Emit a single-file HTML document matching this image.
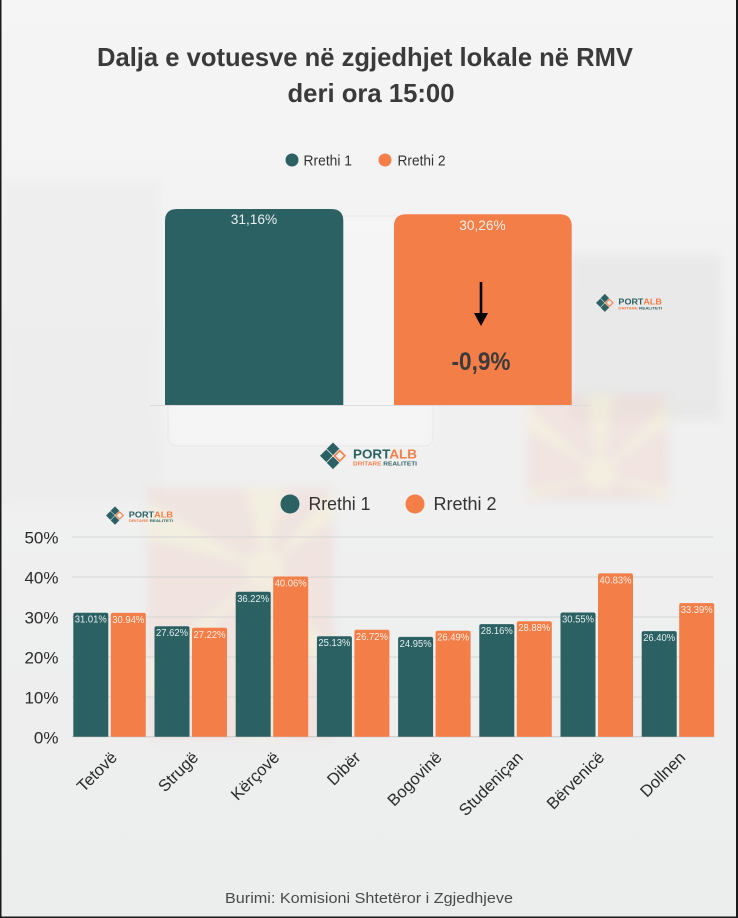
<!DOCTYPE html>
<html>
<head>
<meta charset="utf-8">
<style>
  html,body{margin:0;padding:0;background:#f0f0f0;}
  svg{display:block;}
  text{font-family:"Liberation Sans",sans-serif;}
</style>
</head>
<body>
<svg width="738" height="918" viewBox="0 0 738 918" xmlns="http://www.w3.org/2000/svg">
  <defs>
    <linearGradient id="bg" x1="0" y1="0" x2="0" y2="1">
      <stop offset="0" stop-color="#f5f5f5"/>
      <stop offset="0.5" stop-color="#f0f0f0"/>
      <stop offset="1" stop-color="#eceded"/>
    </linearGradient>
    <filter id="soft" x="-10%" y="-10%" width="120%" height="120%">
      <feGaussianBlur stdDeviation="5"/>
    </filter>
    <g id="logo">
      <path d="M13,0.5 L19.3,6.8 L13,13.1 L6.7,6.8 Z" fill="#2c6163"/>
      <path d="M6.3,7.5 L12.6,13.8 L6.3,20.1 L0,13.8 Z" fill="#2c6163"/>
      <path d="M13,14.5 L19.3,20.8 L13,27.1 L6.7,20.8 Z" fill="#2c6163"/>
      <path d="M19.7,8.6 L24.9,13.8 L19.7,19 L14.5,13.8 Z" fill="none" stroke="#f47e48" stroke-width="1.6"/>
      <text x="33" y="16.5" font-size="12.5" font-weight="bold" textLength="64" lengthAdjust="spacingAndGlyphs"><tspan fill="#2c6163">PORT</tspan><tspan fill="#f47e48">ALB</tspan></text>
      <text x="33" y="23.5" font-size="5.6" font-weight="bold" textLength="64" lengthAdjust="spacingAndGlyphs"><tspan fill="#f47e48">DRITARE </tspan><tspan fill="#2c6163">REALITETI</tspan></text>
    </g>
  </defs>

  <!-- background -->
  <rect x="0" y="0" width="738" height="918" fill="url(#bg)"/>
  <g filter="url(#soft)">
    <rect x="0" y="180" width="160" height="320" fill="#e9e9e9" opacity="0.45"/>
    <rect x="570" y="255" width="150" height="165" fill="#e2e2e2" opacity="0.55"/>
    <rect x="168" y="216" width="265" height="230" rx="8" fill="#f7f7f7" opacity="0.7"/>
  </g>
  <rect x="168" y="216" width="265" height="230" rx="8" fill="none" stroke="#e4e4e4" stroke-width="1.2" opacity="0.6"/>
  <!-- faint flag 1 -->
  <g opacity="0.45" filter="url(#soft)">
    <rect x="148" y="488" width="185" height="250" fill="#f1d4cf"/>
    <polygon points="265,570 245,488 285,488" fill="#f5eccc"/>
    <polygon points="265,570 148,500 148,540" fill="#f5eccc"/>
    <polygon points="265,570 333,488 333,520" fill="#f5eccc"/>
    <polygon points="265,570 150,660 150,700" fill="#f5eccc"/>
    <polygon points="265,570 333,650 333,700" fill="#f5eccc"/>
    <polygon points="265,570 245,738 290,738" fill="#f5eccc"/>
    <circle cx="265" cy="570" r="20" fill="#f5eccc"/>
  </g>
  <!-- faint flag 2 -->
  <g opacity="0.45" filter="url(#soft)">
    <rect x="528" y="395" width="140" height="105" fill="#f1d4cf"/>
    <polygon points="600,474 585,395 615,395" fill="#f5eccc"/>
    <polygon points="600,474 528,405 528,430" fill="#f5eccc"/>
    <polygon points="600,474 668,400 668,425" fill="#f5eccc"/>
    <polygon points="600,474 528,490 528,500" fill="#f5eccc"/>
    <polygon points="600,474 668,488 668,500" fill="#f5eccc"/>
    <circle cx="600" cy="474" r="16" fill="#f5eccc"/>
  </g>

  <!-- title -->
  <text x="365" y="66" font-size="26" font-weight="bold" fill="#3a3a3a" text-anchor="middle" textLength="536" lengthAdjust="spacingAndGlyphs">Dalja e votuesve në zgjedhjet lokale në RMV</text>
  <text x="371" y="102" font-size="26" font-weight="bold" fill="#3a3a3a" text-anchor="middle" textLength="167" lengthAdjust="spacingAndGlyphs">deri ora 15:00</text>

  <!-- top legend -->
  <circle cx="292" cy="160" r="6.5" fill="#2c6163"/>
  <text x="303.5" y="165.5" font-size="14.5" fill="#333" textLength="48.5" lengthAdjust="spacingAndGlyphs">Rrethi 1</text>
  <circle cx="385" cy="160" r="6.5" fill="#f47e48"/>
  <text x="397.5" y="165.5" font-size="14.5" fill="#333" textLength="48" lengthAdjust="spacingAndGlyphs">Rrethi 2</text>

  <!-- top bars -->
  <line x1="150" y1="405.5" x2="590" y2="405.5" stroke="#dcdcdc" stroke-width="1"/>
  <path d="M165,405 L165,221 Q165,209 177,209 L331.3,209 Q343.3,209 343.3,221 L343.3,405 Z" fill="#2c6163"/>
  <path d="M394,405 L394,226.3 Q394,214.3 406,214.3 L559.7,214.3 Q571.7,214.3 571.7,226.3 L571.7,405 Z" fill="#f47e48"/>
  <text x="254" y="224" font-size="14" fill="#e8f0f0" text-anchor="middle" textLength="46.5" lengthAdjust="spacingAndGlyphs">31,16%</text>
  <text x="482.5" y="230" font-size="14" fill="#fdeee5" text-anchor="middle" textLength="46.5" lengthAdjust="spacingAndGlyphs">30,26%</text>
  <line x1="481" y1="282" x2="481" y2="315" stroke="#000" stroke-width="2.6"/>
  <polygon points="474,313 488,313 481,326" fill="#000"/>
  <text x="481" y="370" font-size="25" font-weight="bold" fill="#3b3b3b" text-anchor="middle" textLength="59" lengthAdjust="spacingAndGlyphs">-0,9%</text>

  <!-- logos -->
  <use href="#logo" transform="translate(320,442)"/>
  <use href="#logo" transform="translate(596,293.5) scale(0.68)"/>
  <use href="#logo" transform="translate(106,506) scale(0.69)"/>

  <!-- bottom legend -->
  <circle cx="290" cy="504" r="9.5" fill="#2c6163"/>
  <text x="308.5" y="510" font-size="18.5" fill="#333" textLength="62" lengthAdjust="spacingAndGlyphs">Rrethi 1</text>
  <circle cx="415" cy="504" r="9.5" fill="#f47e48"/>
  <text x="433.5" y="510" font-size="18.5" fill="#333" textLength="63" lengthAdjust="spacingAndGlyphs">Rrethi 2</text>

  <!-- grid -->
  <g stroke="#d6d6d6" stroke-width="1">
    <line x1="72" y1="537" x2="713" y2="537"/>
    <line x1="72" y1="577" x2="713" y2="577"/>
    <line x1="72" y1="617" x2="713" y2="617"/>
    <line x1="72" y1="657" x2="713" y2="657"/>
    <line x1="72" y1="697" x2="713" y2="697"/>
  </g>
  <line x1="72" y1="736.7" x2="714" y2="736.7" stroke="#c8c8c8" stroke-width="1"/>

  <!-- y labels -->
  <g font-size="17" fill="#2a2a2a" text-anchor="end">
    <text x="58.5" y="543.5">50%</text>
    <text x="58.5" y="583.5">40%</text>
    <text x="58.5" y="623.5">30%</text>
    <text x="58.5" y="663.5">20%</text>
    <text x="58.5" y="703.5">10%</text>
    <text x="58.5" y="743.5">0%</text>
  </g>

  <!-- bars -->
  <g>
    <path d="M73.3,736.7 V614.7 Q73.3,612.7 75.3,612.7 H106.3 Q108.3,612.7 108.3,614.7 V736.7 Z" fill="#2c6163"/>
    <path d="M110.8,736.7 V614.9 Q110.8,612.9 112.8,612.9 H143.8 Q145.8,612.9 145.8,614.9 V736.7 Z" fill="#f47e48"/>
    <path d="M154.5,736.7 V628.2 Q154.5,626.2 156.5,626.2 H187.5 Q189.5,626.2 189.5,628.2 V736.7 Z" fill="#2c6163"/>
    <path d="M192,736.7 V629.8 Q192,627.8 194,627.8 H225 Q227,627.8 227,629.8 V736.7 Z" fill="#f47e48"/>
    <path d="M235.7,736.7 V593.8 Q235.7,591.8 237.7,591.8 H268.7 Q270.7,591.8 270.7,593.8 V736.7 Z" fill="#2c6163"/>
    <path d="M273.2,736.7 V578.5 Q273.2,576.5 275.2,576.5 H306.2 Q308.2,576.5 308.2,578.5 V736.7 Z" fill="#f47e48"/>
    <path d="M316.9,736.7 V638.2 Q316.9,636.2 318.9,636.2 H349.9 Q351.9,636.2 351.9,638.2 V736.7 Z" fill="#2c6163"/>
    <path d="M354.4,736.7 V631.8 Q354.4,629.8 356.4,629.8 H387.4 Q389.4,629.8 389.4,631.8 V736.7 Z" fill="#f47e48"/>
    <path d="M398.1,736.7 V638.9 Q398.1,636.9 400.1,636.9 H431.1 Q433.1,636.9 433.1,638.9 V736.7 Z" fill="#2c6163"/>
    <path d="M435.6,736.7 V632.7 Q435.6,630.7 437.6,630.7 H468.6 Q470.6,630.7 470.6,632.7 V736.7 Z" fill="#f47e48"/>
    <path d="M479.3,736.7 V626.1 Q479.3,624.1 481.3,624.1 H512.3 Q514.3,624.1 514.3,626.1 V736.7 Z" fill="#2c6163"/>
    <path d="M516.8,736.7 V623.2 Q516.8,621.2 518.8,621.2 H549.8 Q551.8,621.2 551.8,623.2 V736.7 Z" fill="#f47e48"/>
    <path d="M560.5,736.7 V614.5 Q560.5,612.5 562.5,612.5 H593.5 Q595.5,612.5 595.5,614.5 V736.7 Z" fill="#2c6163"/>
    <path d="M598,736.7 V575.4 Q598,573.4 600,573.4 H631 Q633,573.4 633,575.4 V736.7 Z" fill="#f47e48"/>
    <path d="M641.7,736.7 V633.1 Q641.7,631.1 643.7,631.1 H674.7 Q676.7,631.1 676.7,633.1 V736.7 Z" fill="#2c6163"/>
    <path d="M679.2,736.7 V605.1 Q679.2,603.1 681.2,603.1 H712.2 Q714.2,603.1 714.2,605.1 V736.7 Z" fill="#f47e48"/>
  </g>

  <!-- value labels -->
  <g font-size="10" text-anchor="middle">
    <text x="90.8" y="622.7" fill="#e3efef" textLength="32" lengthAdjust="spacingAndGlyphs">31.01%</text>
    <text x="128.3" y="622.9" fill="#fdeee5" textLength="32" lengthAdjust="spacingAndGlyphs">30.94%</text>
    <text x="172" y="636.2" fill="#e3efef" textLength="32" lengthAdjust="spacingAndGlyphs">27.62%</text>
    <text x="209.5" y="637.8" fill="#fdeee5" textLength="32" lengthAdjust="spacingAndGlyphs">27.22%</text>
    <text x="253.2" y="601.8" fill="#e3efef" textLength="32" lengthAdjust="spacingAndGlyphs">36.22%</text>
    <text x="290.7" y="586.5" fill="#fdeee5" textLength="32" lengthAdjust="spacingAndGlyphs">40.06%</text>
    <text x="334.4" y="646.2" fill="#e3efef" textLength="32" lengthAdjust="spacingAndGlyphs">25.13%</text>
    <text x="371.9" y="639.8" fill="#fdeee5" textLength="32" lengthAdjust="spacingAndGlyphs">26.72%</text>
    <text x="415.6" y="646.9" fill="#e3efef" textLength="32" lengthAdjust="spacingAndGlyphs">24.95%</text>
    <text x="453.1" y="640.7" fill="#fdeee5" textLength="32" lengthAdjust="spacingAndGlyphs">26.49%</text>
    <text x="496.8" y="634.1" fill="#e3efef" textLength="32" lengthAdjust="spacingAndGlyphs">28.16%</text>
    <text x="534.3" y="631.2" fill="#fdeee5" textLength="32" lengthAdjust="spacingAndGlyphs">28.88%</text>
    <text x="578" y="622.5" fill="#e3efef" textLength="32" lengthAdjust="spacingAndGlyphs">30.55%</text>
    <text x="615.5" y="583.4" fill="#fdeee5" textLength="32" lengthAdjust="spacingAndGlyphs">40.83%</text>
    <text x="659.2" y="641.1" fill="#e3efef" textLength="32" lengthAdjust="spacingAndGlyphs">26.40%</text>
    <text x="696.7" y="613.1" fill="#fdeee5" textLength="32" lengthAdjust="spacingAndGlyphs">33.39%</text>
  </g>

  <!-- x labels -->
  <g font-size="16.5" fill="#2a2a2a" text-anchor="end">
    <text transform="translate(118,758.5) rotate(-45)">Tetovë</text>
    <text transform="translate(199.2,758.5) rotate(-45)">Strugë</text>
    <text transform="translate(280.4,758.5) rotate(-45)">Kërçovë</text>
    <text transform="translate(361.6,758.5) rotate(-45)">Dibër</text>
    <text transform="translate(442.8,758.5) rotate(-45)">Bogovinë</text>
    <text transform="translate(524,758.5) rotate(-45)">Studeniçan</text>
    <text transform="translate(605.2,758.5) rotate(-45)">Bërvenicë</text>
    <text transform="translate(686.4,758.5) rotate(-45)">Dollnen</text>
  </g>

  <!-- footer -->
  <text x="369" y="903" font-size="15" fill="#4a4a4a" text-anchor="middle" textLength="288" lengthAdjust="spacingAndGlyphs">Burimi: Komisioni Shtetëror i Zgjedhjeve</text>

  <!-- frame borders -->
  <rect x="0" y="0" width="1.5" height="918" fill="#1a1a1a"/>
  <rect x="736" y="0" width="2" height="918" fill="#1a1a1a"/>
  <rect x="0" y="916.5" width="738" height="1.5" fill="#1a1a1a"/>
</svg>
</body>
</html>
